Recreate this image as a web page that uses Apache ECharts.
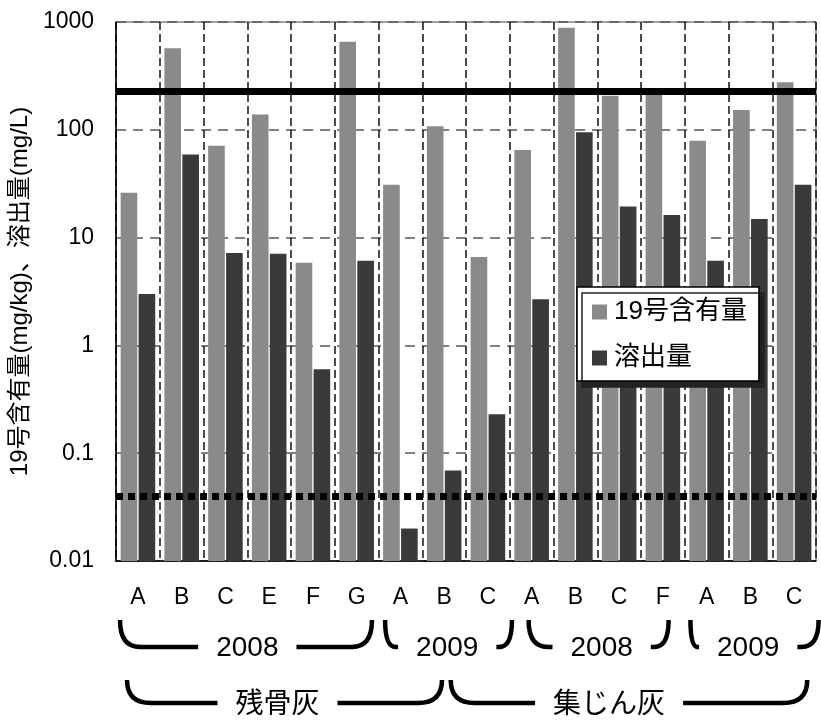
<!DOCTYPE html>
<html>
<head>
<meta charset="utf-8">
<script src="https://cdn.jsdelivr.net/npm/echarts@6/dist/echarts.min.js"></script>
<style>
html,body{margin:0;padding:0;background:#fff;}
#chart{width:821px;height:720px;}
</style>
</head>
<body>
<div id="chart"></div>
<script>
// ---- data ----
const categories = ['A','B','C','E','F','G','A','B','C','A','B','C','F','A','B','C'];
const content19 = [26, 570, 71, 139, 5.85, 657, 31, 108, 6.6, 65, 885, 207, 215, 79, 153, 276];
const eluted    = [3.0, 59, 7.2, 7.1, 0.6, 6.1, 0.02, 0.069, 0.23, 2.68, 95, 19.4, 16.2, 6.1, 14.9, 31];
const seriesNames = ['19号含有量', '溶出量'];
const yearLabels = ['2008', '2009', '2008', '2009'];
const ashLabels = ['残骨灰', '集じん灰'];
const contentStandard = 230;
const elutionStandard = 0.038;
const yMin = 0.01, yMax = 1000;
const yAxisName = '19号含有量(mg/kg)、溶出量(mg/L)';

// ---- layout (band units along the category axis: [start, text centre, end]) ----
const yearBracketLayout = [[0.09, 3.0, 5.85], [6.15, 7.57, 9.05], [9.43, 11.1, 12.63], [13.13, 14.45, 16.06]];
const ashBracketLayout = [[0.25, 3.69, 7.45], [7.65, 11.27, 15.8]];

const LATIN = 'Liberation Sans';
const CJK = '"Liberation Sans", "Noto Sans CJK JP"';
const colors = ['#8a8a8a', '#3a3a3a'];

const chart = echarts.init(document.getElementById('chart'), null, {renderer: 'canvas'});

function makeRender(pos) {
  return function (params, api) {
    const idx = api.value(0), v = api.value(1);
    const top = api.coord([idx, v]);
    const base = api.coord([idx, yMin]);
    const band = api.size([1, 0])[0];
    const w = band * 0.38, g = band * 0.03;
    const x = pos === 0 ? top[0] - g / 2 - w : top[0] + g / 2;
    return {
      type: 'rect',
      shape: {x: x, y: top[1], width: w, height: base[1] - top[1]},
      style: {fill: api.visual('color')}
    };
  };
}

const option = {
  animation: false,
  backgroundColor: '#fff',
  grid: {left: 116, right: 5, top: 22, bottom: 159, show: true, borderColor: '#444', borderWidth: 1},
  legend: {
    data: seriesNames,
    orient: 'vertical',
    left: 577, top: 287,
    padding: [12, 12, 10, 15],
    itemGap: 20,
    itemWidth: 15, itemHeight: 15,
    icon: 'rect',
    backgroundColor: '#fff',
    borderColor: '#000', borderWidth: 1.5, borderRadius: 0,
    shadowColor: '#222', shadowBlur: 0, shadowOffsetX: 5, shadowOffsetY: 6,
    textStyle: {fontSize: 26, color: '#000', fontFamily: CJK, padding: [0, 0, 0, 2]}
  },
  xAxis: {
    type: 'category',
    data: categories,
    axisLine: {lineStyle: {color: '#000', width: 1.5}},
    axisTick: {show: false},
    axisLabel: {fontSize: 23, color: '#000', fontFamily: LATIN, margin: 25, interval: 0},
    splitLine: {show: true, lineStyle: {color: '#111', width: 1.5, type: [8, 4]}}
  },
  yAxis: {
    type: 'log',
    logBase: 10,
    min: yMin, max: yMax,
    name: yAxisName,
    nameLocation: 'middle',
    nameGap: 67,
    nameTextStyle: {fontSize: 24, color: '#000', fontFamily: CJK},
    axisLine: {show: true, lineStyle: {color: '#000', width: 1.5}},
    axisTick: {show: false},
    axisLabel: {
      fontSize: 23, color: '#000', fontFamily: LATIN, margin: 22,
      formatter: function (v) { return String(+(+v).toPrecision(6)); }
    },
    splitLine: {show: true, lineStyle: {color: '#555', width: 1.5, type: [10, 7]}}
  },
  series: [
    {
      name: seriesNames[0], type: 'custom',
      itemStyle: {color: colors[0]},
      renderItem: makeRender(0),
      encode: {x: 0, y: 1},
      data: content19.map((v, i) => [i, v]),
      z: 2,
      markLine: {
        silent: true, symbol: 'none', label: {show: false},
        z: 5,
        data: [
          {yAxis: contentStandard, lineStyle: {color: '#000', width: 7, type: 'solid'}},
          {yAxis: elutionStandard, lineStyle: {color: '#000', width: 7, type: [7, 5]}}
        ]
      }
    },
    {
      name: seriesNames[1], type: 'custom',
      itemStyle: {color: colors[1]},
      renderItem: makeRender(1),
      encode: {x: 0, y: 1},
      data: eluted.map((v, i) => [i, v]),
      z: 2
    }
  ]
};
chart.setOption(option);

// ---- brackets under the axis (positioned from the category axis) ----
const mctx = document.createElement('canvas').getContext('2d');
function textWidth(t, font) { mctx.font = font; return mctx.measureText(t).width; }

const c0 = chart.convertToPixel({xAxisIndex: 0}, 0);
const c1 = chart.convertToPixel({xAxisIndex: 0}, 1);
const band = c1 - c0;
const axisLeft = c0 - band / 2;
function px(u) { return axisLeft + u * band; }

const graphics = [];
const strokeStyle = {fill: null, stroke: '#000', lineWidth: 4.5};
function bracket(layout, label, yTop, yLine, font, fontSize, hookW, textY) {
  const x0 = px(layout[0]), xc = px(layout[1]), x1 = px(layout[2]);
  const tw = textWidth(label, fontSize + 'px ' + font);
  const tL = xc - tw / 2 - 18, tR = xc + tw / 2 + 18;
  const wl = Math.min(hookW, (tL - x0) * 0.8);
  const wr = Math.min(hookW, (x1 - tR) * 0.8);
  graphics.push({type: 'bezierCurve', silent: true,
    shape: {x1: x0, y1: yTop, x2: x0 + wl, y2: yLine, cpx1: x0, cpy1: yLine}, style: strokeStyle});
  graphics.push({type: 'line', silent: true,
    shape: {x1: x0 + wl - 0.5, y1: yLine, x2: tL, y2: yLine}, style: strokeStyle});
  graphics.push({type: 'line', silent: true,
    shape: {x1: tR, y1: yLine, x2: x1 - wr + 0.5, y2: yLine}, style: strokeStyle});
  graphics.push({type: 'bezierCurve', silent: true,
    shape: {x1: x1 - wr, y1: yLine, x2: x1, y2: yTop, cpx1: x1, cpy1: yLine}, style: strokeStyle});
  graphics.push({
    type: 'text', silent: true, x: xc, y: textY,
    style: {text: label, font: fontSize + 'px ' + font, fill: '#000', align: 'center', verticalAlign: 'middle'}
  });
}
yearLabels.forEach((lab, i) => bracket(yearBracketLayout[i], lab, 620, 647, LATIN, 28, 20, 648));
ashLabels.forEach((lab, i) => bracket(ashBracketLayout[i], lab, 680, 703, CJK, 28, 24, 705));
chart.setOption({graphic: graphics});
</script>
</body>
</html>
